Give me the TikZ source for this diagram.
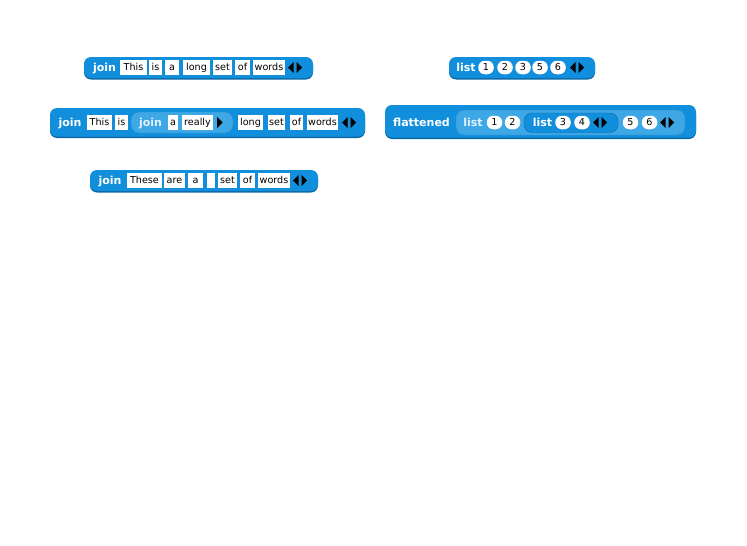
\documentclass[tikz,border=0pt]{standalone}
\usepackage{fontspec}
\setmainfont{DejaVu Sans}
\usetikzlibrary{positioning}
\definecolor{snapblue}{RGB}{17,143,220}
\definecolor{snaplight}{RGB}{62,167,230}
\definecolor{snapdark}{RGB}{10,104,165}
\tikzset{
  block/.style   = {fill=snapblue, rounded corners=7pt},
  blockshd/.style= {fill=snapdark, rounded corners=7pt},
  zebra/.style   = {fill=snaplight, draw=snapdark!45!snaplight, rounded corners=8pt},
  zdark/.style   = {fill=snapblue, draw=snapdark, rounded corners=8pt},
  kw/.style      = {text=white, inner sep=0pt, text height=8.5pt, text depth=0.5pt,
                    font=\bfseries\fontsize{11}{11}\selectfont},
  slot/.style    = {fill=white, minimum height=15pt, inner sep=0pt, text height=7.5pt,
                    text depth=1pt, font=\fontsize{9.6}{9.6}\selectfont},
  num/.style     = {fill=white, rounded corners=6.5pt, minimum height=13.5pt, minimum width=15.5pt,
                    inner sep=0pt, text height=7.5pt, text depth=1pt, font=\fontsize{9.6}{9.6}\selectfont},
  lrarr/.pic     = {\fill (-7,0) -- (-1.5,-5.5) -- (-1.5,5.5) -- cycle;
                    \fill (7,0) -- (1.5,-5.5) -- (1.5,5.5) -- cycle;},
  rarr/.pic      = {\fill (3,0) -- (-2.5,-5.5) -- (-2.5,5.5) -- cycle;},
}

\begin{document}
\begin{tikzpicture}[x=1pt, y=-1pt]
  \useasboundingbox (0,0) rectangle (747,546);

  % join This is a long set of words
  \fill[blockshd] (84,58.5) rectangle (313,79.5);
  \fill[block] (84,57) rectangle (313,78);
  \node[kw] (j1) at (104.5,67.5) {join};
  \foreach \a/\b/\t [count=\i] in {120/147/This, 149/162/is, 165/179/a, 183/210/long,
      213/232/set, 235/250/of, 253/285/words}
    \node[slot, minimum width={(\b-\a)*1pt}] (j1s\i) at ({(\a+\b)/2},67.5) {\t};
  \pic at (295,67.5) {lrarr};

  % list 1 2 3 5 6
  \fill[blockshd] (449,58.5) rectangle (595,79.5);
  \fill[block] (449,57) rectangle (595,78);
  \node[kw] (l1) at (466,67.5) {list};
  \foreach \x/\t [count=\i] in {486/1, 505/2, 523/3, 540/5, 558/6}
    \node[num] (l1n\i) at (\x,67.5) {\t};
  \pic at (577,67.5) {lrarr};

  % join This is (join a really) long set of words
  \fill[blockshd] (50,109.5) rectangle (365,138);
  \fill[block] (50,108) rectangle (365,136.5);
  \node[kw] (j2) at (70,122) {join};
  \foreach \a/\b/\t [count=\i] in {87/112/This, 115/128/is}
    \node[slot, minimum width={(\b-\a)*1pt}] (j2s\i) at ({(\a+\b)/2},122.5) {\t};
  \draw[zebra] (131,112) rectangle (233,133);
  \node[kw, text=white!85!snaplight] (j3) at (150.5,122) {join};
  \foreach \a/\b/\t [count=\i] in {168/178/a, 182/213/really}
    \node[slot, minimum width={(\b-\a)*1pt}] (j3s\i) at ({(\a+\b)/2},122.5) {\t};
  \pic at (219.5,122.5) {rarr};
  \foreach \a/\b/\t [count=\i] in {238/263/long, 268/285/set, 290/303/of, 307/338/words}
    \node[slot, minimum width={(\b-\a)*1pt}] (j2t\i) at ({(\a+\b)/2},122.5) {\t};
  \pic at (349,122.5) {lrarr};

  % flattened (list 1 2 (list 3 4) 5 6)
  \fill[blockshd] (385,107) rectangle (696,139);
  \fill[block] (385,105) rectangle (696,137.5);
  \node[kw] (fl) at (421.5,122) {flattened};
  \draw[zebra] (456,110) rectangle (685,135);
  \node[kw, text=white!85!snaplight] (l2) at (473,122) {list};
  \foreach \x/\t [count=\i] in {494.5/1, 512.5/2}
    \node[num] (l2n\i) at (\x,122.5) {\t};
  \draw[zdark] (524,113) rectangle (618,132.5);
  \node[kw] (l3) at (542.5,122.5) {list};
  \foreach \x/\t [count=\i] in {563/3, 582/4}
    \node[num] (l3n\i) at (\x,122.5) {\t};
  \pic at (600,122.5) {lrarr};
  \foreach \x/\t [count=\i] in {630.5/5, 649.5/6}
    \node[num] (l2m\i) at (\x,122.5) {\t};
  \pic at (667,122.5) {lrarr};

  % join These are a _ set of words
  \fill[blockshd] (90,171.5) rectangle (318,192.5);
  \fill[block] (90,170) rectangle (318,191);
  \node[kw] (j4) at (110,180.5) {join};
  \foreach \a/\b/\t [count=\i] in {127/162/These, 164/185/are, 188/203/a, 207/215/{},
      218/237/set, 240/255/of, 258/290/words}
    \node[slot, minimum width={(\b-\a)*1pt}] (j4s\i) at ({(\a+\b)/2},180.5) {\t};
  \pic at (300,180.5) {lrarr};
\end{tikzpicture}
\end{document}
